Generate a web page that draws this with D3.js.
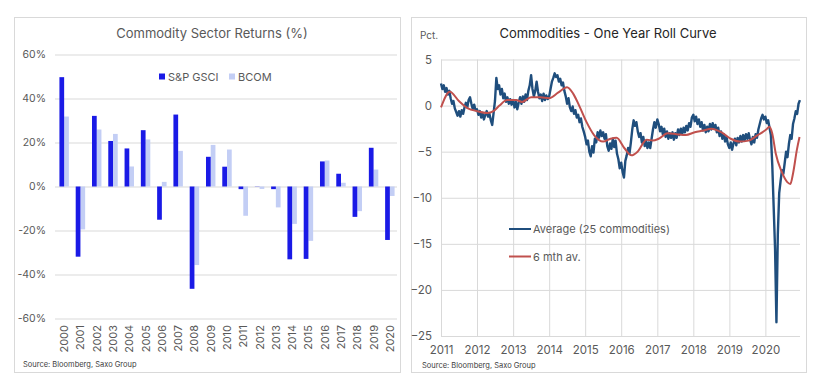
<!DOCTYPE html>
<html>
<head>
<meta charset="utf-8">
<script src="https://cdn.jsdelivr.net/npm/d3@7/dist/d3.min.js"></script>
<style>
    body { margin: 0; background: #fff; }
    svg { font-family: Inter, "Noto Sans", sans-serif; }
</style>
</head>
<body>
<svg id="chart" width="819" height="386"></svg>
<script>
// left panel: yearly returns (%)
const years = ['2000','2001','2002','2003','2004','2005','2006','2007','2008','2009','2010',
               '2011','2012','2013','2014','2015','2016','2017','2018','2019','2020'];
const gsci = [49.7, -31.9, 32.1, 20.7, 17.3, 25.6, -15.1, 32.7, -46.5, 13.5, 9.0,
              -1.2, 0.1, -1.2, -33.1, -32.9, 11.4, 5.8, -13.8, 17.6, -24.3];
const bcom = [31.8, -19.5, 25.9, 23.9, 9.1, 21.4, 2.1, 16.2, -35.7, 18.9, 16.8,
              -13.3, -1.1, -9.5, -17.0, -24.7, 11.8, 1.7, -11.2, 7.7, -4.3];
const returnTicks = [60, 40, 20, 0, -20, -40, -60];

// right panel: one year roll curve, 26 readings per year (about every two weeks)
const rollYears = [2011, 2012, 2013, 2014, 2015, 2016, 2017, 2018, 2019, 2020];
const avgValues = [
    [2.4, 1.8, 2.2, 1.5, 1.9, 1.2, 1.6, 0.8, 0.2, 0.5, -0.3, -0.7, -1.1, -0.6, -1.2, -0.5, -0.9, -0.2, 0.3, -0.2, 0.6, 0.9, 0.2, -0.4, 0.1, -0.5],
    [-0.4, -1.0, -0.6, -1.3, -0.8, -1.5, -1.0, -0.6, -1.2, -0.9, -1.6, -2.1, -0.8, 0.5, 3.0, 1.8, 2.2, 1.2, 1.8, 0.8, 1.3, 0.4, 0.9, 0.2, 0.7, 0.1],
    [0.6, -0.2, 0.4, -0.4, 0.3, 0.9, 0.2, 1.0, 0.4, 1.2, 0.6, 1.6, 2.2, 3.3, 1.8, 1.0, 1.6, 2.6, 1.5, 0.8, 1.2, 0.5, 1.3, 0.6, 1.1, 0.7],
    [1.0, 1.8, 2.6, 3.0, 3.5, 3.1, 3.3, 2.6, 2.9, 2.2, 2.5, 1.6, 1.0, 0.2, 0.8, -0.2, -0.6, -0.1, -0.9, -0.5, -1.3, -1.0, -1.8, -1.4, -2.3, -2.8],
    [-3.4, -4.2, -3.8, -5.0, -5.5, -4.4, -5.1, -3.6, -4.0, -2.9, -3.5, -2.7, -3.3, -2.9, -3.6, -3.1, -4.4, -4.9, -4.1, -4.7, -3.6, -4.5, -3.8, -5.2, -5.8, -6.8],
    [-6.2, -7.2, -7.8, -6.0, -5.4, -4.6, -5.2, -4.0, -2.6, -1.6, -2.2, -1.8, -2.8, -3.4, -3.0, -4.0, -3.4, -4.4, -3.8, -4.6, -4.0, -4.6, -3.6, -2.6, -1.8, -2.4],
    [-1.5, -2.0, -2.8, -2.3, -3.1, -2.5, -3.4, -2.8, -3.6, -3.0, -3.5, -2.9, -3.7, -3.0, -3.5, -2.6, -3.2, -2.5, -3.1, -2.4, -2.9, -2.2, -2.7, -1.9, -2.3, -1.3],
    [-1.0, -1.7, -1.2, -2.0, -1.5, -2.3, -1.8, -2.7, -2.1, -2.9, -2.3, -2.8, -2.0, -2.6, -1.9, -2.5, -2.1, -2.9, -2.4, -3.3, -2.8, -3.6, -3.1, -3.9, -3.4, -4.2],
    [-4.6, -4.0, -4.8, -4.1, -3.6, -4.3, -3.5, -4.0, -3.3, -3.9, -3.2, -3.8, -3.1, -3.6, -3.0, -3.7, -4.2, -3.4, -4.0, -3.1, -3.5, -2.6, -2.0, -1.4, -1.0, -1.5],
    [-1.2, -1.9, -1.6, -2.4, -3.2, -6.5, -11.0, -15.5, -23.5, -14.0, -9.5, -8.2, -7.0, -7.4, -6.2, -5.0, -5.6, -4.2, -3.2, -3.6, -2.0, -1.4, -0.6, -0.9, 0.2, 0.6]
];
const maDates = ['2011-01-01','2011-04-01','2011-07-01','2011-10-01','2012-01-01','2012-04-15','2012-06-15','2012-08-15','2012-11-01',
                 '2013-02-01','2013-04-01','2013-07-01','2013-10-01','2014-01-01','2014-04-01','2014-07-01','2014-09-01','2014-11-01',
                 '2015-01-15','2015-04-01','2015-07-01','2015-09-15','2015-11-15','2016-02-01','2016-04-15','2016-06-15','2016-09-15',
                 '2016-11-15','2017-01-15','2017-04-15','2017-07-15','2017-10-15','2018-01-15','2018-04-15','2018-07-01','2018-10-15',
                 '2019-01-15','2019-04-15','2019-07-15','2019-10-15','2020-01-10','2020-02-10','2020-03-10','2020-04-15','2020-06-15',
                 '2020-08-10','2020-09-10','2020-10-10','2020-11-15','2020-12-12'];
const maValues = [-0.2, 1.5, 0.5, -0.3, -0.6, -0.8, -0.6, 0.0, 0.6,
                  0.6, 0.4, 0.9, 0.9, 0.8, 1.4, 2.0, 1.3, 0.0,
                  -1.8, -3.2, -3.9, -3.6, -3.5, -4.6, -5.4, -5.0, -3.7,
                  -3.8, -3.6, -3.0, -3.1, -3.2, -2.9, -2.7, -2.5, -2.9,
                  -3.6, -3.9, -3.8, -3.2, -2.6, -2.3, -3.0, -5.2, -7.2,
                  -8.3, -8.5, -7.2, -4.8, -3.4];
const rollTicks = [5, 0, -5, -10, -15, -20, -25];

const textGrey = '#595959';
const gridGrey = '#d9d9d9';

const svg = d3.select('#chart');

// panel frames
svg.append('rect').attr('x', 14.5).attr('y', 17.5).attr('width', 386).attr('height', 355)
    .attr('fill', 'none').attr('stroke', gridGrey);
svg.append('rect').attr('x', 411.5).attr('y', 17.5).attr('width', 395).attr('height', 355)
    .attr('fill', 'none').attr('stroke', gridGrey);

// ---------- left: Commodity Sector Returns ----------
{
    const left = 55, right = 397;
    const x = d3.scaleBand().domain(years).range([left + 1, right + 1]).paddingInner(0.42).paddingOuter(0.21);
    const sub = d3.scaleBand().domain(['gsci', 'bcom']).range([0, x.bandwidth()]);
    const y = d3.scaleLinear().domain([-60, 60]).range([318.5, 54.5]);

    svg.append('text')
        .attr('x', 212).attr('y', 38)
        .attr('text-anchor', 'middle')
        .attr('font-size', 13).attr('fill', textGrey)
        .text('Commodity Sector Returns (%)');

    const yaxis = d3.axisLeft(y).tickValues(returnTicks)
        .tickSize(-(right - left)).tickFormat(d => d + '%');
    svg.append('g')
        .attr('transform', `translate(${left},0)`)
        .call(yaxis)
        .call(g => g.select('.domain').remove())
        .call(g => g.selectAll('line').attr('stroke', gridGrey))
        .call(g => g.selectAll('text').attr('x', -9).attr('fill', textGrey)
            .attr('font-size', 10.5).attr('font-family', 'Inter, sans-serif'));

    const rows = years.map((yr, i) => ({ year: yr, gsci: gsci[i], bcom: bcom[i] }));
    const colors = { gsci: '#1a1ae6', bcom: '#c3cef5' };

    ['bcom', 'gsci'].forEach(key => {
        svg.append('g').selectAll('rect')
            .data(rows)
            .join('rect')
            .attr('x', d => x(d.year) + sub(key))
            .attr('y', d => y(Math.max(0, d[key])))
            .attr('width', sub.bandwidth())
            .attr('height', d => Math.abs(y(d[key]) - y(0)))
            .attr('fill', colors[key]);
    });

    // year labels, rotated
    svg.append('g').selectAll('text')
        .data(years)
        .join('text')
        .attr('transform', d => `translate(${x(d) + x.bandwidth() / 2 + 4},325) rotate(-90)`)
        .attr('text-anchor', 'end')
        .attr('font-size', 11).attr('fill', textGrey)
        .text(d => d);

    // legend
    const legend = [{ key: 'gsci', label: 'S&P GSCI', x: 159 }, { key: 'bcom', label: 'BCOM', x: 229 }];
    const lg = svg.append('g');
    lg.selectAll('rect').data(legend).join('rect')
        .attr('x', d => d.x).attr('y', 73.5).attr('width', 6).attr('height', 6)
        .attr('fill', d => colors[d.key]);
    lg.selectAll('text').data(legend).join('text')
        .attr('x', d => d.x + 9).attr('y', 80.5)
        .attr('font-size', 11).attr('fill', textGrey)
        .text(d => d.label);

    svg.append('text')
        .attr('x', 23).attr('y', 367)
        .attr('font-size', 7.5).attr('fill', '#404040')
        .text('Source: Bloomberg, Saxo Group');
}

// ---------- right: One Year Roll Curve ----------
{
    const left = 441, right = 800;
    const x = d3.scaleTime()
        .domain([new Date(2011, 0, 1), new Date(2021, 0, 1)])
        .range([left, 801.5]);
    const y = d3.scaleLinear().domain([-25, 5]).range([336, 59.5]);

    svg.append('text')
        .attr('x', 608).attr('y', 38)
        .attr('text-anchor', 'middle')
        .attr('font-size', 13).attr('fill', '#262626')
        .text('Commodities - One Year Roll Curve');

    svg.append('text')
        .attr('x', 420).attr('y', 39)
        .attr('font-size', 10).attr('fill', textGrey)
        .text('Pct.');

    // horizontal grid + labels
    svg.append('g')
        .attr('transform', `translate(${left},0)`)
        .call(d3.axisLeft(y).tickValues(rollTicks).tickSize(-(right - left)))
        .call(g => g.select('.domain').remove())
        .call(g => g.selectAll('line').attr('stroke', gridGrey))
        .call(g => g.selectAll('text').attr('x', -9).attr('fill', textGrey)
            .attr('font-size', 11.5).attr('font-family', 'Inter, sans-serif'));

    // vertical grid + year labels
    const yearDates = rollYears.map(yr => new Date(yr, 0, 1));
    svg.append('g')
        .attr('transform', `translate(0,${y(-25)})`)
        .call(d3.axisBottom(x).tickValues(yearDates).tickSize(-(y(-25) - y(5)))
            .tickFormat(d3.timeFormat('%Y')))
        .call(g => g.select('.domain').remove())
        .call(g => g.selectAll('line').attr('stroke', gridGrey))
        .call(g => g.selectAll('text').attr('y', 10).attr('fill', textGrey)
            .attr('font-size', 11.5).attr('font-family', 'Inter, sans-serif'));

    const avgPoints = [];
    rollYears.forEach((yr, j) => {
        avgValues[j].forEach((v, i) => avgPoints.push({ date: new Date(yr, 0, 1 + i * 14), value: v }));
    });
    const parse = d3.timeParse('%Y-%m-%d');
    const maPoints = maDates.map((d, i) => ({ date: parse(d), value: maValues[i] }));

    const blueLine = d3.line().x(d => x(d.date)).y(d => y(d.value));
    const redLine = d3.line().x(d => x(d.date)).y(d => y(d.value)).curve(d3.curveMonotoneX);

    svg.append('path').datum(avgPoints)
        .attr('d', blueLine)
        .attr('fill', 'none').attr('stroke', '#1f4e7d').attr('stroke-width', 2.4)
        .attr('stroke-linejoin', 'round');

    svg.append('path').datum(maPoints)
        .attr('d', redLine)
        .attr('fill', 'none').attr('stroke', '#c0504d').attr('stroke-width', 2);

    // legend
    const legend = [{ label: 'Average (25 commodities)', color: '#1f4e7d', y: 229 },
                    { label: '6 mth av.', color: '#c0504d', y: 256.5 }];
    const lg = svg.append('g');
    lg.selectAll('line').data(legend).join('line')
        .attr('x1', 509).attr('x2', 531).attr('y1', d => d.y).attr('y2', d => d.y)
        .attr('stroke', d => d.color).attr('stroke-width', 2);
    lg.selectAll('text').data(legend).join('text')
        .attr('x', 533).attr('y', d => d.y + 4)
        .attr('font-size', 11).attr('fill', textGrey)
        .text(d => d.label);

    svg.append('text')
        .attr('x', 422).attr('y', 368)
        .attr('font-size', 7.5).attr('fill', '#404040')
        .text('Source: Bloomberg, Saxo Group');
}
</script>
</body>
</html>
